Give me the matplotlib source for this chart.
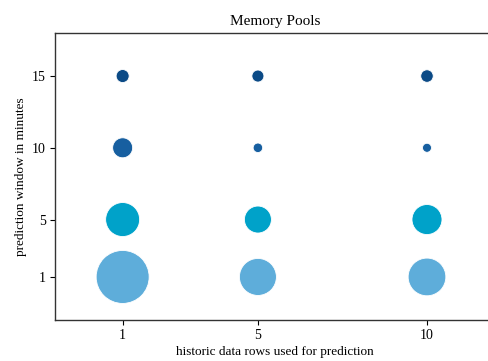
import matplotlib
matplotlib.use('Agg')
import matplotlib.pyplot as plt

# data
rows_used = [1, 5, 10]
windows = [15, 10, 5, 1]
# marker area (points^2) per window row, in order of rows_used
pool_sizes = {
    15: [88, 75, 81],
    10: [207, 47, 42],
    5: [599, 378, 467],
    1: [1456, 710, 737],
}
row_colors = {15: '#0b4a86', 10: '#175fa0', 5: '#00a2c9', 1: '#5eadda'}

plt.rcParams['font.family'] = ['Liberation Serif', 'DejaVu Serif']

fig = plt.figure(figsize=(4.89, 3.61), dpi=100)
ax = fig.add_axes([0.1125, 0.1136, 0.899, 0.795])

for w in windows:
    ax.scatter(rows_used, [w] * len(rows_used), s=pool_sizes[w],
               color=row_colors[w], edgecolors='white', linewidths=0.6,
               zorder=3)

ax.set_xlim(-1, 12)
ax.set_ylim(-2, 18)
ax.set_xticks(rows_used)
ax.set_yticks(windows)
ax.tick_params(labelsize=10, length=3.5, width=0.8, pad=3)
for sp in ax.spines.values():
    sp.set_color('#333333')
    sp.set_linewidth(1.0)
ax.set_title('Memory Pools', fontsize=11)
ax.set_xlabel('historic data rows used for prediction', fontsize=9.5, labelpad=3)
ax.set_ylabel('prediction window in minutes', fontsize=9.5)

fig.savefig('out.png', dpi=100)
